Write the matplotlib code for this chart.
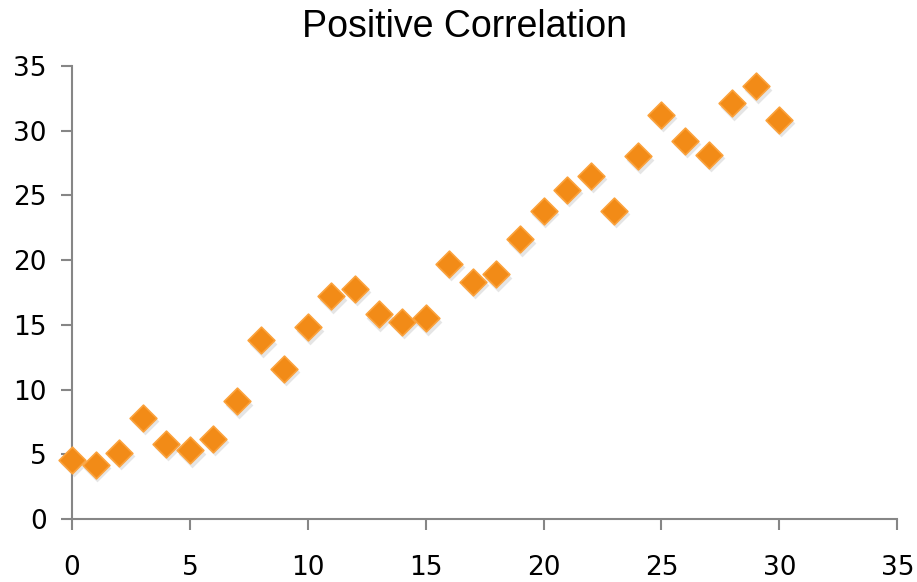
import matplotlib.pyplot as plt

x = list(range(31))
y = [4.6, 4.2, 5.1, 7.8, 5.8, 5.3, 6.2, 9.1, 13.8, 11.6, 14.8,
     17.2, 17.8, 15.8, 15.2, 15.5, 19.7, 18.3, 18.9, 21.6, 23.8,
     25.4, 26.5, 23.8, 28.0, 31.2, 29.2, 28.1, 32.1, 33.4, 30.8]

fig = plt.figure(figsize=(9.17, 5.82), dpi=100)
ax = fig.add_axes([0.0785, 0.108, 0.9, 0.779])

# soft shadow under the diamonds
ax.scatter([v + 0.08 for v in x], [v - 0.25 for v in y], marker='D', s=200,
           color='#9a9a9a', alpha=0.25, linewidths=0, zorder=2, clip_on=False)
ax.scatter(x, y, marker='D', s=185, color='#F28B17', edgecolors='#FBA23C',
           linewidths=1.2, zorder=3, clip_on=False)

ax.set_xlim(0, 35)
ax.set_ylim(0, 35)
ax.set_xticks(range(0, 36, 5))
ax.set_yticks(range(0, 36, 5))
fig.text(0.506, 0.953, "Positive Correlation", fontsize=27,
         family='Liberation Sans', ha='center', va='center')

for side in ['top', 'right']:
    ax.spines[side].set_visible(False)
for side in ['left', 'bottom']:
    ax.spines[side].set_color('#868686')
    ax.spines[side].set_linewidth(1.5)
ax.tick_params(axis='both', colors='#868686', labelcolor='black', labelsize=19,
               length=8, width=1.5, direction='out')
ax.tick_params(axis='x', pad=18)
ax.tick_params(axis='y', pad=10)

plt.savefig('out.png', dpi=100)
